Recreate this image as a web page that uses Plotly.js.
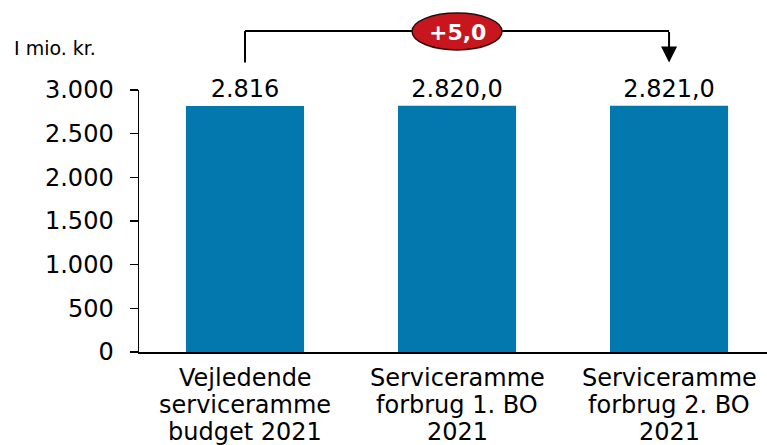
<!DOCTYPE html>
<html>
<head>
<meta charset="utf-8">
<script src="https://cdn.plot.ly/plotly-3.0.1.min.js"></script>
<style>html,body{margin:0;padding:0;background:#fff;}#chart{width:767px;height:445px;}</style>
</head>
<body>
<div id="chart"></div>
<script>
var categories = ["Vejledende<br>serviceramme<br>budget 2021", "Serviceramme<br>forbrug 1. BO<br>2021", "Serviceramme<br>forbrug 2. BO<br>2021"];
var values = [2816, 2820, 2821];
var valueLabels = ["2.816", "2.820,0", "2.821,0"];
var tickVals = [0, 500, 1000, 1500, 2000, 2500, 3000];
var tickText = ["0", "500", "1.000", "1.500", "2.000", "2.500", "3.000"];
var unitLabel = "I mio. kr.";

var diff = values[2] - values[0];
var diffText = "+" + diff.toFixed(1).replace(".", ",");

var FONT = "DejaVu Sans, Verdana, sans-serif";
var xIdx = categories.map(function (c, i) { return i; });

var trace = {
  type: "bar",
  x: xIdx,
  y: values,
  text: valueLabels,
  textposition: "outside",
  texttemplate: "%{text}",
  textfont: {family: FONT, size: 24, color: "#000"},
  cliponaxis: false,
  marker: {color: "#0378AF"},
  hoverinfo: "none"
};

var annotations = [];
// category labels, one annotation per line for tighter line spacing
categories.forEach(function (cat, i) {
  cat.split("<br>").forEach(function (line, j) {
    annotations.push({
      xref: "x", yref: "paper", x: i, y: 0, xanchor: "center", yanchor: "middle",
      yshift: -(26 + 27 * j), text: line, showarrow: false,
      font: {family: FONT, size: 24, color: "#000"}
    });
  });
});

var bracketY = 1.225;
annotations.push(
  {xref: "x", yref: "paper", x: 2, y: 1.105, ax: 0, ay: -32, axref: "pixel", ayref: "pixel", showarrow: true, arrowhead: 2, arrowsize: 1.6, arrowwidth: 2, arrowcolor: "#000", text: ""},
  {xref: "x", yref: "paper", x: 1, y: 1.22, xanchor: "center", yanchor: "middle", text: "<b>" + diffText + "</b>", showarrow: false, font: {family: FONT, size: 22, color: "#fff"}},
  {xref: "paper", yref: "paper", x: -0.202, y: 1.159, xanchor: "left", yanchor: "middle", text: unitLabel, showarrow: false, font: {family: FONT, size: 19, color: "#000"}}
);

var layout = {
  width: 767, height: 445,
  margin: {l: 139, r: 0, t: 90, b: 93},
  paper_bgcolor: "#fff", plot_bgcolor: "#fff",
  showlegend: false,
  bargap: 0.443,
  font: {family: FONT, color: "#000"},
  xaxis: {
    range: [-0.5, 2.462],
    tickvals: xIdx,
    showticklabels: false,
    showline: true, linecolor: "#000", linewidth: 1.5,
    ticks: "", showgrid: false, zeroline: false
  },
  yaxis: {
    range: [0, 3000],
    tickvals: tickVals,
    ticktext: tickText,
    tickfont: {family: FONT, size: 24, color: "#000"},
    showline: true, linecolor: "#000", linewidth: 1.5,
    ticks: "outside", ticklen: 8, tickwidth: 1.5, tickcolor: "#000",
    showgrid: false, zeroline: false,
    ticklabelstandoff: 11
  },
  shapes: [
    {type: "line", xref: "x", yref: "paper", x0: 0, x1: 0, y0: 1.105, y1: bracketY, line: {color: "#000", width: 2}},
    {type: "line", xref: "x", yref: "paper", x0: 0, x1: 2, y0: bracketY, y1: bracketY, line: {color: "#000", width: 2}},
    {type: "circle", xref: "x", yref: "paper", x0: 1 - 0.212, x1: 1 + 0.212, y0: 1.153, y1: 1.294, fillcolor: "#C8161E", line: {color: "#2a0a0a", width: 1.5}}
  ],
  annotations: annotations
};

Plotly.newPlot("chart", [trace], layout, {displayModeBar: false, staticPlot: true});
</script>
</body>
</html>
